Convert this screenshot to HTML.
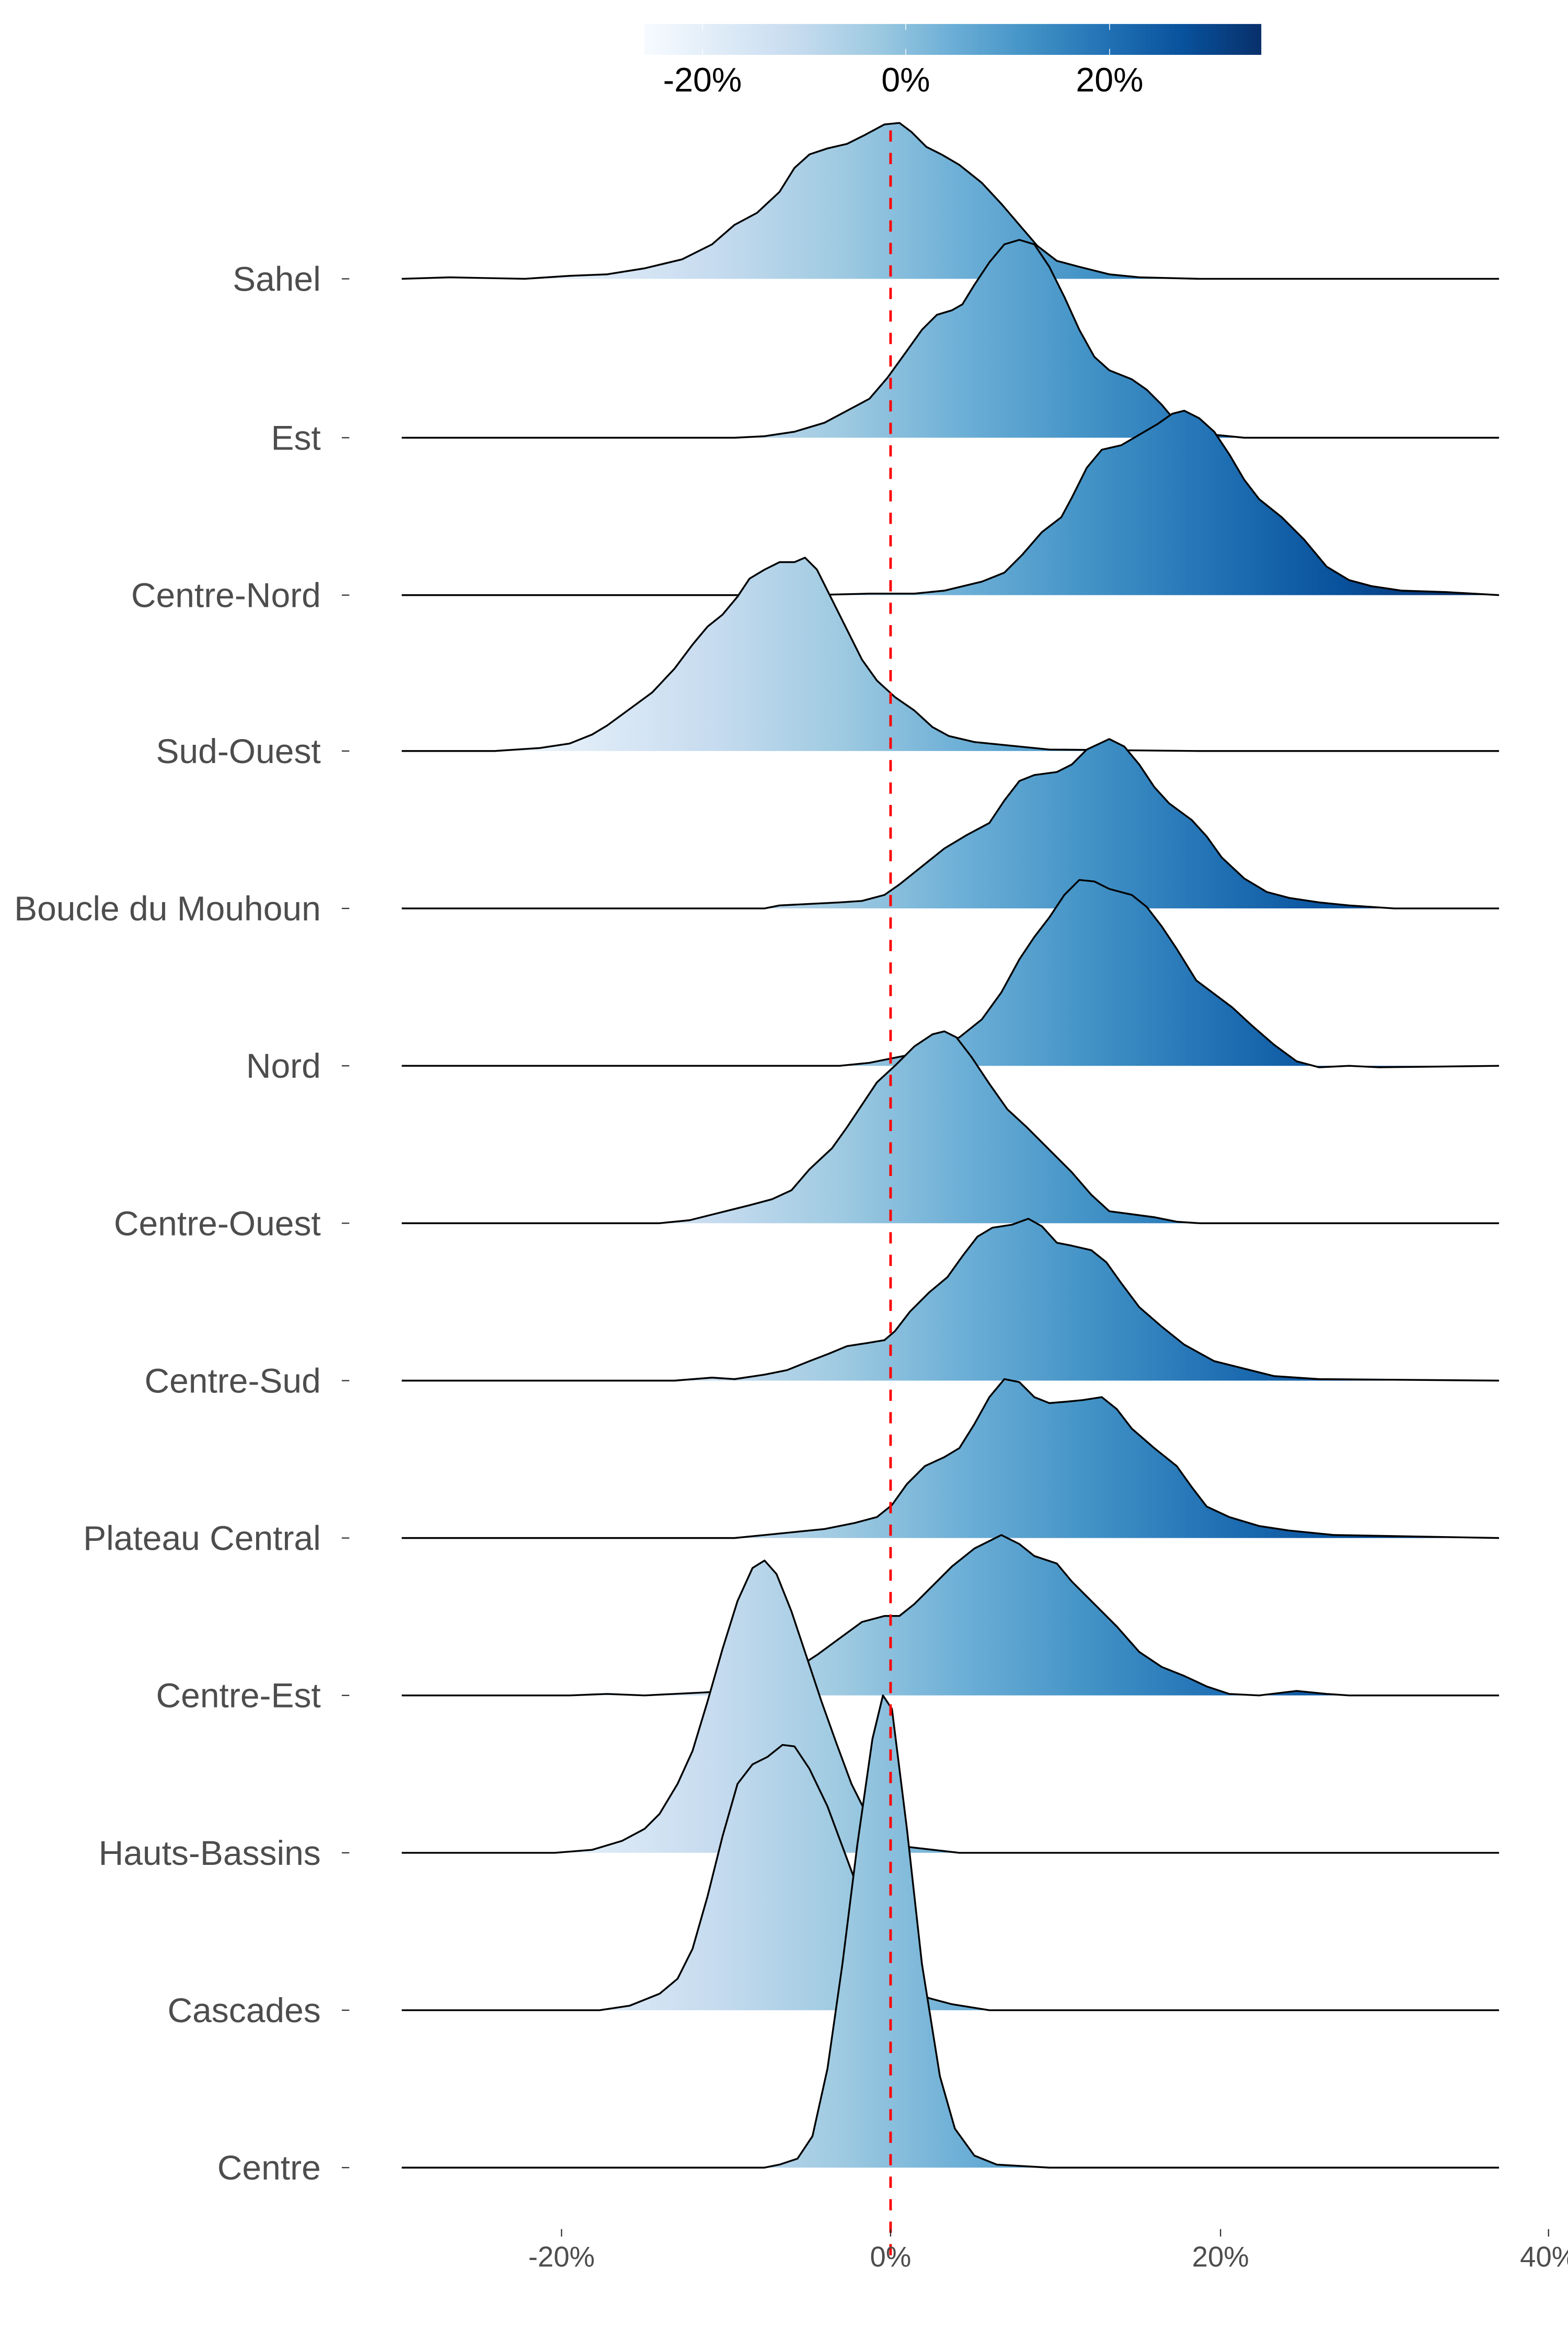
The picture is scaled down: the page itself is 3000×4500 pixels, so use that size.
<!DOCTYPE html>
<html><head><meta charset="utf-8"><style>html,body{margin:0;padding:0;background:#fff}svg{display:block}</style></head>
<body>
<svg width="3000" height="4500" viewBox="0 0 1046 1569" xmlns="http://www.w3.org/2000/svg">
<defs>
<linearGradient id="g" gradientUnits="userSpaceOnUse" x1="311.4" y1="0" x2="978" y2="0">
<stop offset="0" stop-color="#f7fbff"/><stop offset="0.125" stop-color="#deebf7"/><stop offset="0.25" stop-color="#c6dbef"/><stop offset="0.375" stop-color="#9ecae1"/><stop offset="0.5" stop-color="#6baed6"/><stop offset="0.625" stop-color="#4292c6"/><stop offset="0.75" stop-color="#2171b5"/><stop offset="0.875" stop-color="#08519c"/><stop offset="1" stop-color="#08306b"/>
</linearGradient>
<linearGradient id="cb" gradientUnits="userSpaceOnUse" x1="429.6" y1="0" x2="841.4" y2="0">
<stop offset="0" stop-color="#f7fbff"/><stop offset="0.125" stop-color="#deebf7"/><stop offset="0.25" stop-color="#c6dbef"/><stop offset="0.375" stop-color="#9ecae1"/><stop offset="0.5" stop-color="#6baed6"/><stop offset="0.625" stop-color="#4292c6"/><stop offset="0.75" stop-color="#2171b5"/><stop offset="0.875" stop-color="#08519c"/><stop offset="1" stop-color="#08306b"/>
</linearGradient>
</defs>
<rect x="429.6" y="16" width="411.8" height="20.6" fill="url(#cb)"/>
<g stroke="#fff" stroke-width="0.5"><line x1="468.6" y1="16" x2="468.6" y2="20"/><line x1="468.6" y1="32.6" x2="468.6" y2="36.6"/><line x1="604.2" y1="16" x2="604.2" y2="20"/><line x1="604.2" y1="32.6" x2="604.2" y2="36.6"/><line x1="740.2" y1="16" x2="740.2" y2="20"/><line x1="740.2" y1="32.6" x2="740.2" y2="36.6"/></g>
<g font-family="Liberation Sans, sans-serif" font-size="22.5" fill="#000" text-anchor="middle"><text x="468.6" y="61">-20%</text><text x="604.2" y="61">0%</text><text x="740.2" y="61">20%</text></g>

<g fill="url(#g)" stroke="#000" stroke-width="1.2" stroke-linejoin="round">
<polyline points="268,186 300,185 350,186 380,184 405,183 430,179 455,173 475,163 490,150 505,142 520,128 530,112 540,103 552,99 565,96 577,90 590,83 600,82 608,88 618,98 628,103 640,110 655,122 668,136 680,150 692,164 705,174 720,178 740,183 760,185 800,186 1000,186"/>
<polyline points="268,292 490,292 510,291 530,288 550,282 565,274 580,266 592,252 605,234 615,220 625,210 635,207 642,203 650,190 660,175 670,163 680,160 690,163 700,178 710,198 720,220 730,238 740,247 755,253 765,260 775,270 785,282 800,289 830,292 1000,292"/>
<polyline points="268,397 540,397 580,396 610,396 630,394 655,388 670,382 682,370 695,355 708,345 715,332 725,312 735,300 748,297 760,290 772,283 782,276 790,274 800,279 810,288 820,303 830,320 840,333 855,345 870,360 885,378 900,387 915,391 935,394 965,395 1000,397"/>
<polyline points="268,501 330,501 360,499 380,496 395,490 405,484 420,473 435,462 450,446 462,430 472,418 482,410 492,398 500,386 510,380 520,375 530,375 537,372 545,380 555,400 565,420 575,440 585,454 597,465 610,474 622,485 633,491 650,495 670,497 700,500 800,501 1000,501"/>
<polyline points="268,606 510,606 520,604 540,603 560,602 575,601 590,597 600,590 615,578 630,566 645,557 660,549 670,534 680,521 690,517 705,515 715,510 725,500 740,493 750,498 760,510 770,525 780,536 795,547 805,558 815,572 830,586 845,595 860,599 880,602 900,604 930,606 1000,606"/>
<polyline points="268,711 560,711 580,709 595,706 610,703 625,698 640,692 655,680 668,662 680,640 690,625 700,612 710,597 720,587 730,588 740,593 755,597 765,605 775,618 785,633 798,654 810,663 822,672 835,684 850,697 865,708 880,712 900,711 920,712 1000,711"/>
<polyline points="268,816 440,816 460,814 480,809 500,804 515,800 528,794 540,780 555,766 565,752 575,737 585,722 598,710 610,698 622,690 630,688 638,692 648,705 660,723 672,740 685,752 700,767 715,782 728,797 740,808 755,810 770,812 785,815 800,816 1000,816"/>
<polyline points="268,921 450,921 475,919 490,920 510,917 525,914 540,908 553,903 565,898 578,896 590,894 597,888 607,875 620,862 632,852 642,838 652,825 662,819 675,817 686,813 695,818 705,829 715,831 728,834 738,842 748,856 760,872 775,885 790,897 810,908 830,913 850,918 880,920 1000,921"/>
<polyline points="268,1026 490,1026 510,1024 530,1022 550,1020 570,1016 585,1012 595,1004 605,990 617,978 630,972 640,966 650,950 660,932 670,920 680,922 690,932 700,936 712,935 722,934 735,932 745,940 755,953 770,966 785,978 795,992 805,1005 820,1012 840,1018 860,1021 890,1024 1000,1026"/>
<polyline points="268,1131 380,1131 405,1130 430,1131 470,1129 500,1127 525,1117 545,1104 560,1093 575,1082 590,1078 600,1078 610,1070 622,1058 635,1045 650,1033 668,1024 680,1030 690,1038 705,1043 715,1055 730,1070 745,1085 760,1102 775,1112 790,1118 805,1125 820,1130 840,1131 865,1128 885,1130 900,1131 1000,1131"/>
<polyline points="268,1236 370,1236 395,1234 415,1228 430,1220 440,1210 452,1190 462,1168 472,1135 482,1100 492,1068 502,1046 510,1041 518,1050 528,1075 538,1105 548,1135 558,1163 568,1190 578,1210 590,1225 605,1232 640,1236 1000,1236"/>
<polyline points="268,1341 400,1341 420,1338 440,1330 452,1320 462,1300 472,1265 482,1225 492,1190 502,1177 512,1172 522,1164 530,1165 540,1180 552,1205 565,1240 578,1275 590,1303 605,1328 620,1333 635,1337 660,1341 1000,1341"/>
<polyline points="268,1446 510,1446 520,1444 532,1440 542,1425 552,1380 562,1310 572,1230 582,1160 589,1131 595,1140 605,1220 615,1310 627,1385 637,1420 650,1438 665,1444 700,1446 1000,1446"/>
</g>

<line x1="594.1" y1="87" x2="594.1" y2="1510" stroke="#ff0000" stroke-width="1.7" stroke-dasharray="7.5 7.5"/>

<g stroke="#333" stroke-width="0.8">
<line x1="228" y1="186" x2="233" y2="186"/><line x1="228" y1="292" x2="233" y2="292"/><line x1="228" y1="397" x2="233" y2="397"/><line x1="228" y1="501" x2="233" y2="501"/><line x1="228" y1="606" x2="233" y2="606"/><line x1="228" y1="711" x2="233" y2="711"/><line x1="228" y1="816" x2="233" y2="816"/><line x1="228" y1="921" x2="233" y2="921"/><line x1="228" y1="1026" x2="233" y2="1026"/><line x1="228" y1="1131" x2="233" y2="1131"/><line x1="228" y1="1236" x2="233" y2="1236"/><line x1="228" y1="1341" x2="233" y2="1341"/><line x1="228" y1="1446" x2="233" y2="1446"/>
<line x1="374.6" y1="1487" x2="374.6" y2="1492"/><line x1="594.1" y1="1487" x2="594.1" y2="1492"/><line x1="814.2" y1="1487" x2="814.2" y2="1492"/><line x1="1033" y1="1487" x2="1033" y2="1492"/>
</g>
<g font-family="Liberation Sans, sans-serif" font-size="23" fill="#4d4d4d" text-anchor="end">
<text x="214" y="194">Sahel</text><text x="214" y="300">Est</text><text x="214" y="405">Centre-Nord</text><text x="214" y="509">Sud-Ouest</text><text x="214" y="614">Boucle du Mouhoun</text><text x="214" y="719">Nord</text><text x="214" y="824">Centre-Ouest</text><text x="214" y="929">Centre-Sud</text><text x="214" y="1034">Plateau Central</text><text x="214" y="1139">Centre-Est</text><text x="214" y="1244">Hauts-Bassins</text><text x="214" y="1349">Cascades</text><text x="214" y="1454">Centre</text>
</g>
<g font-family="Liberation Sans, sans-serif" font-size="19" fill="#4d4d4d" text-anchor="middle">
<text x="374.6" y="1512">-20%</text><text x="594.1" y="1512">0%</text><text x="814.2" y="1512">20%</text><text x="1033" y="1512">40%</text>
</g>
</svg>
</body></html>
